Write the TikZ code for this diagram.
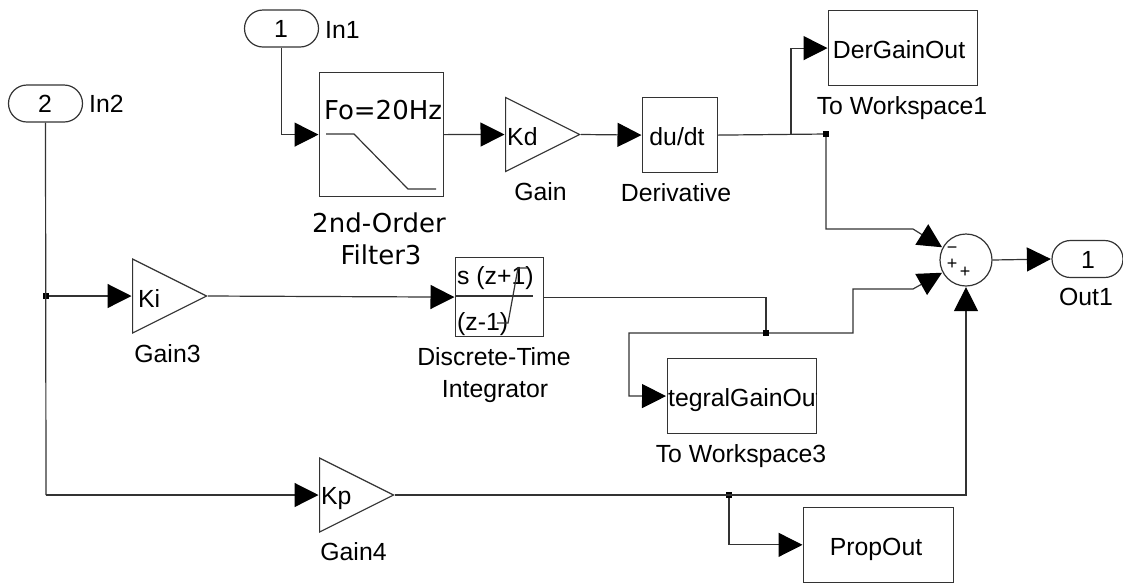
\documentclass[tikz,border=0pt]{standalone}
\usepackage{fontspec}
\setmainfont{Liberation Sans}
\newfontfamily\dejavu{DejaVu Sans}
\usetikzlibrary{arrows.meta,shapes.geometric,shapes.misc}
\tikzset{
  wire/.style={line width=1.2pt,draw=black!80},
  sig/.style={wire,-{Triangle[length=24pt,width=24pt,fill=black,color=black]},shorten >=0.5pt},
  block/.style={draw=black!80,line width=1.2pt,rectangle,inner sep=0pt,anchor=north west},
  gainblk/.style={draw=black!80,line width=1.2pt,isosceles triangle,isosceles triangle stretches,inner sep=0pt,minimum width=74pt,minimum height=74pt,anchor=lower side},
  port/.style={draw=black!80,line width=1.2pt,rounded rectangle,inner sep=0pt,minimum width=74pt,minimum height=37pt},
  dot/.style={fill=black,inner sep=0pt,minimum size=6pt,rectangle},
  txt/.style={font=\fontsize{24.8}{28}\selectfont,inner sep=0pt,anchor=base},
  ltxt/.style={txt,anchor=base west},
  dj/.style={font=\dejavu\fontsize{26}{30}\selectfont,inner sep=0pt,anchor=base},
  sign/.style={font=\fontsize{18}{20}\selectfont,inner sep=0pt,anchor=center},
}
\begin{document}
\begin{tikzpicture}[x=1pt,y=-1pt]
\useasboundingbox (0,0) rectangle (1123,582);
% ports
\node[port] (in1) at (281.5,28.5) {};
\node[txt] (in1n) at (281,37) {1};
\node[ltxt] (in1l) at (325,38) {In1};
\node[port] (in2) at (45.5,103.5) {};
\node[txt] (in2n) at (45,112) {2};
\node[ltxt] (in2l) at (89,112) {In2};
\node[port,minimum width=71pt] (out1) at (1087.5,259) {};
\node[txt] (out1n) at (1088,268) {1};
\node[txt] (out1l) at (1086,305) {Out1};
% blocks
\node[block,minimum width=124pt,minimum height=124pt] (filt) at (319,72) {};
\node[dj] (fo) at (383,119) {Fo=20Hz};
\draw[wire] (326,134) -- (354,134) -- (408,189) -- (436,189);
\node[dj] (fl1) at (379,232) {2nd-Order};
\node[dj] (fl2) at (381,264) {Filter3};
\node[gainblk] (kd) at (505,134.5) {};
\node[ltxt] (kdt) at (507,145) {Kd};
\node[txt] (gl) at (540.5,200) {Gain};
\node[block,minimum width=75pt,minimum height=75pt] (der) at (642,97) {};
\node[txt] (dert) at (677,145) {du/dt};
\node[txt] (derl) at (676,201) {Derivative};
\node[block,minimum width=149pt,minimum height=75pt] (dgo) at (828,10) {};
\node[txt] (dgot) at (899,58) {DerGainOut};
\node[txt] (dgol) at (902,114) {To Workspace1};
\node[gainblk] (ki) at (132,296) {};
\node[ltxt] (kit) at (138,307) {Ki};
\node[txt] (g3) at (167.5,362) {Gain3};
\node[block,minimum width=88pt,minimum height=79pt] (int) at (455,257) {};
\node[ltxt] (intn) at (457,284) {s (z+1)};
\node[ltxt] (intd) at (457,330) {(z-1)};
\draw[wire] (455,296) -- (533,296);
\draw[wire] (527,268) -- (518,268) -- (508,323) -- (497,323);
\node[txt] (il1) at (494,365) {Discrete-Time};
\node[txt] (il2) at (495,397) {Integrator};
\node[block,minimum width=149.5pt,minimum height=75pt] (igo) at (666.5,358) {};
\begin{scope}
\clip (666.5,358) rectangle (816,433);
\node[ltxt] (igot) at (668,406) {tegralGainOut};
\end{scope}
\node[txt] (igol) at (741,462) {To Workspace3};
\node[gainblk] (kp) at (319,495) {};
\node[ltxt] (kpt) at (321,504) {Kp};
\node[txt] (g4) at (353.5,560) {Gain4};
\node[block,minimum width=150pt,minimum height=74.5pt] (pro) at (803,507) {};
\node[txt] (prot) at (876,555) {PropOut};
% sum
\node[draw=black!80,line width=1.2pt,circle,inner sep=0pt,minimum size=52pt] (sum) at (966,260) {};
\node[sign] (s1) at (952,250) {−};
\node[sign] (s2) at (952,264) {+};
\node[sign] (s3) at (965,272) {+};
% junctions
\node[dot] (j1) at (826,134) {};
\node[dot] (j2) at (766,333) {};
\node[dot] (j3) at (729,495) {};
\node[dot] (j4) at (46,296) {};
\coordinate (b1) at (791,134);
% connectors
\draw[sig] (in1.south) |- (filt.west);
\draw[sig] (filt.east) -- (kd.lower side);
\draw[sig] (kd.apex) -- (der.west);
\draw[wire] (der.east) -- (j1);
\draw[sig] (b1) |- (dgo.west);
\draw[sig] (j1) -- (826,229) -- (913,229) -- (sum.152);
\draw[sig] (j2) -- (853,333) -- (853,289) -- (913,289) -- (sum.208);
\draw[wire] (int.east) -| (j2);
\draw[sig] (j2) -- (629,333) -- (629,396) -- (igo.west);
\draw[wire] (in2.south) -- (46,495) coordinate (c1);
\draw[sig] (c1) -- (kp.lower side);
\draw[sig] (j4) -- (ki.lower side);
\draw[sig] (ki.apex) -- (int.west);
\draw[sig] (kp.apex) -| (sum.south);
\draw[sig] (j3) |- (pro.west);
\draw[sig] (sum.east) -- (out1.west);
\end{tikzpicture}
\end{document}
